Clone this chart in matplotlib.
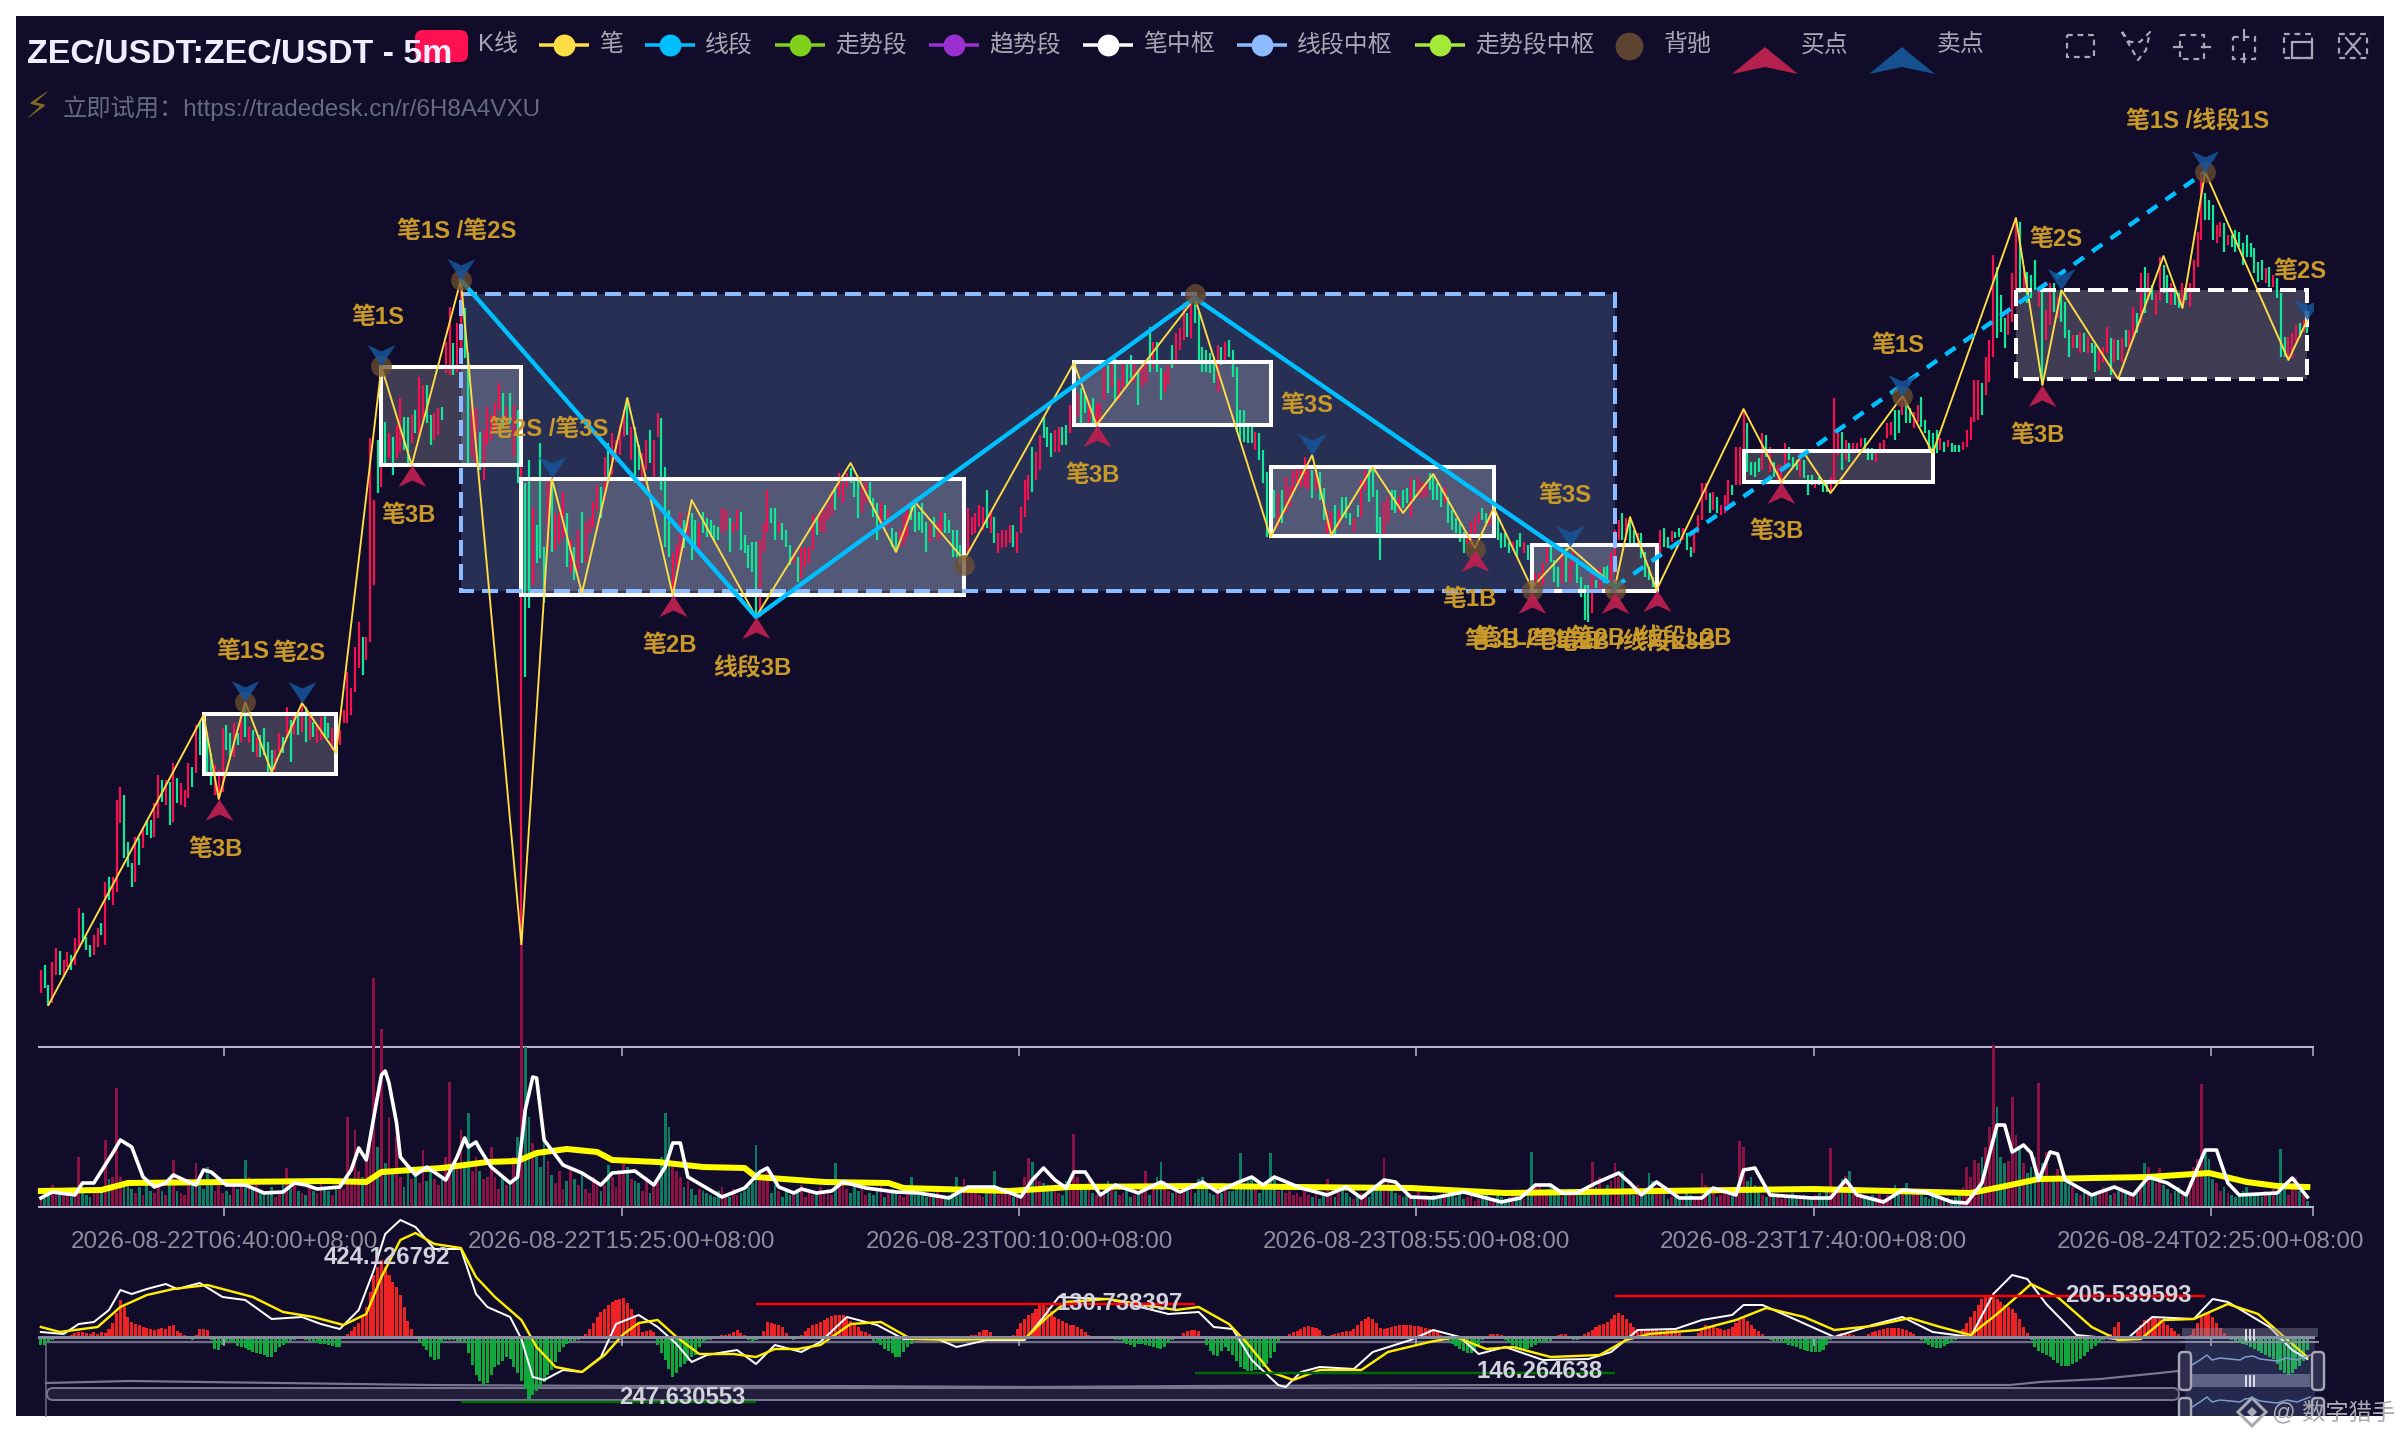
import matplotlib
matplotlib.use("Agg")
import matplotlib.pyplot as plt
from matplotlib.patches import FancyBboxPatch, Polygon, Rectangle
from matplotlib.path import Path

plt.rcParams["font.family"] = ["Liberation Sans", "Noto Sans CJK SC", "DejaVu Sans"]

W, H = 2400, 1440
PX = 72 / 200  # one image pixel in points
N_SLOTS = 601

# the chart has no price axis, so prices are kept as heights read on the picture
candle_top = [
    970,965,985,962,948,951,960,952,955,938,
    908,913,937,945,935,928,923,882,877,877,
    800,787,795,842,863,837,838,827,820,820,
    803,775,780,780,782,763,778,783,790,763,
    767,725,722,717,737,753,765,770,728,725,
    733,723,733,713,703,727,730,738,735,728,
    742,750,750,733,737,707,720,713,713,703,
    707,715,722,725,717,715,723,728,735,730,
    710,672,688,647,622,637,637,438,500,440,
    367,422,433,437,425,398,417,417,415,410,
    377,385,385,415,413,408,407,342,307,343,
    323,280,308,353,402,408,432,430,407,415,
    403,383,393,407,393,405,410,462,483,460,
    508,525,443,547,480,480,513,513,492,513,
    540,547,530,512,522,518,502,485,487,457,
    443,433,440,425,410,398,427,427,445,453,
    440,430,440,413,418,467,510,553,545,513,
    520,512,513,520,523,512,518,520,525,527,
    508,510,518,522,510,512,535,545,542,542,
    540,523,490,508,508,522,523,530,545,552,
    557,548,547,547,515,517,512,510,503,490,
    487,473,483,473,468,477,478,483,482,482,
    498,503,503,505,510,528,532,530,515,503,
    502,505,512,503,522,525,517,522,512,513,
    520,530,530,545,535,508,517,513,505,507,
    490,510,517,533,530,530,525,525,532,507,
    480,475,447,452,435,417,427,433,430,427,
    427,425,405,363,393,388,395,400,398,403,
    403,367,365,365,358,380,360,362,355,363,
    372,368,360,327,342,342,368,372,365,345,
    333,328,303,313,295,300,312,347,350,353,
    357,345,347,342,340,350,367,410,410,423,
    423,432,433,450,472,473,490,493,490,477,
    487,470,465,465,457,465,470,472,472,488,
    510,512,505,510,497,497,513,518,505,480,
    470,467,470,490,517,502,497,490,490,497,
    490,488,478,480,477,482,483,473,475,483,
    488,487,497,510,518,523,532,532,522,517,
    512,508,513,513,517,517,533,533,542,542,
    540,533,542,545,545,573,573,563,542,547,
    560,567,552,548,562,552,558,577,585,585,
    572,580,567,567,566,552,530,520,513,518,
    520,530,533,533,552,567,577,557,530,528,
    537,531,532,528,528,533,547,532,515,483,
    483,493,492,497,505,495,480,485,447,447,
    410,423,462,462,458,433,435,447,462,465,
    465,443,447,457,460,452,460,475,475,480,
    477,482,482,477,398,433,432,440,443,443,
    443,438,438,448,448,453,443,440,423,422,
    410,410,397,403,408,412,405,397,420,430,
    433,430,438,442,440,443,445,445,442,430,
    417,380,380,383,357,340,255,267,295,318,
    308,273,218,222,267,272,275,260,287,290,
    310,283,283,297,290,302,330,335,335,332,
    333,337,343,345,350,347,327,338,339,340,
    338,330,330,307,313,273,267,273,285,293,
    257,265,275,283,287,293,283,288,283,260,
    232,173,193,200,205,225,222,223,235,235,
    230,232,243,235,243,248,262,260,268,267,
    275,278,293,337,337,333,325,323,320,323,
]
candle_bottom = [
    993,988,1006,1003,975,975,977,967,970,965,
    947,942,950,957,955,947,935,945,900,905,
    892,823,858,867,887,882,865,848,835,838,
    837,818,802,805,825,822,803,805,807,798,
    787,773,755,768,772,785,795,798,792,750,
    757,757,745,742,737,743,752,757,757,755,
    772,772,770,752,753,737,762,735,735,732,
    742,740,737,743,740,738,738,750,753,745,
    723,723,715,692,668,675,660,642,585,493,
    487,467,458,475,458,452,450,463,443,433,
    437,420,423,445,440,435,420,373,375,375,
    372,350,358,467,457,467,470,480,445,440,
    433,410,427,427,423,457,483,945,677,608,
    585,563,558,603,550,552,550,543,538,567,
    573,580,570,563,562,533,527,510,518,500,
    477,475,462,455,437,435,460,483,470,483,
    470,463,480,437,490,547,557,593,567,557,
    548,538,560,545,550,533,537,537,540,540,
    533,530,552,533,530,550,553,568,572,617,
    617,552,532,523,540,533,540,547,565,563,
    582,578,567,563,550,535,532,533,520,515,
    510,497,503,487,483,497,518,513,503,503,
    517,540,527,520,527,547,552,547,545,537,
    520,532,530,533,552,542,537,540,535,533,
    533,557,557,565,565,553,535,533,527,530,
    528,533,543,553,548,547,543,547,553,533,
    517,500,492,480,470,438,447,457,452,452,
    445,445,433,427,417,423,413,423,427,423,
    423,400,393,387,402,400,388,385,378,382,
    405,387,383,372,367,372,400,392,385,368,
    365,350,340,337,338,323,360,372,372,373,
    383,392,365,363,357,377,432,440,442,443,
    443,450,460,483,537,508,518,527,523,512,
    507,493,483,487,487,490,498,490,500,520,
    535,533,535,527,518,518,525,532,517,517,
    490,502,497,533,560,535,523,510,513,513,
    508,503,517,500,497,498,497,490,500,500,
    507,503,523,530,533,542,553,545,547,537,
    523,520,523,525,525,540,548,547,553,550,
    556,547,553,560,588,587,587,585,563,562,
    582,587,583,582,582,565,583,597,620,622,
    613,588,592,583,583,590,573,540,540,540,
    547,545,545,558,577,580,587,590,557,547,
    548,542,538,537,540,550,557,553,533,520,
    500,513,510,513,515,513,510,495,485,485,
    467,472,475,477,472,470,457,472,477,483,
    480,465,460,468,470,477,478,495,485,488,
    485,492,492,492,483,455,470,460,462,453,
    453,447,452,460,460,462,453,450,438,435,
    440,433,415,423,423,428,422,427,433,450,
    455,453,450,452,447,452,452,452,450,447,
    440,422,420,415,395,382,357,338,332,348,
    335,322,307,293,290,303,298,290,307,385,
    340,325,312,318,322,338,357,348,348,353,
    352,353,353,372,370,362,353,375,362,360,
    362,347,347,340,333,323,313,300,300,315,
    300,293,303,305,305,308,305,300,307,292,
    267,240,220,220,240,243,237,252,245,247,
    252,247,265,257,257,273,282,280,283,287,
    287,298,357,357,357,358,342,337,332,333,
]
# 1 = rising candle
candle_up = (
    "1001101101" "1000110101" "1100010100" "1101010111" "0100001110"
    "0101010100" "0011010101" "0101100101" "1111101110" "1010110010"
    "1100110110" "1100110111" "1101010100" "1000101110" "1010111101"
    "0111101001" "1011000111" "0100100000" "1101100000" "1110010001"
    "0111101111" "0111000110" "0010100111" "0000010110" "0000111111"
    "0101111011" "1101100011" "0011100101" "1101011001" "0110100110"
    "1110100000" "0101000000" "0100000101" "1111110100" "1101000101"
    "1000011001" "0010111000" "0100000111" "1001100001" "0010011110"
    "0010110000" "1010011101" "0010000110" "0100100111" "1010111011"
    "1000010101" "1100010001" "0001110101" "1100011111" "0010011000"
    "0010100011" "1110111000" "1110100010" "1101000101" "0100111010"
    "1011010101" "1001001011" "1100011010" "0000000010" "1000111010"
)

volume = [
    10,16,12,22,18,14,12,14,10,18,
    50,14,12,10,16,14,18,67,28,30,
    119,30,26,24,18,14,20,12,22,16,
    14,20,16,12,24,47,16,14,12,28,
    24,44,22,18,40,24,16,30,14,16,
    12,22,18,26,47,30,18,22,14,16,
    12,20,10,16,24,39,18,28,16,14,
    12,22,16,14,24,18,16,12,20,26,
    18,90,28,77,36,30,50,66,229,60,
    178,44,90,36,70,30,20,40,28,32,
    24,57,26,40,28,22,30,50,125,40,
    44,77,40,94,36,50,36,28,30,60,
    30,18,32,22,24,50,70,262,160,90,
    64,52,40,66,46,32,24,36,18,26,
    40,28,22,36,18,14,30,24,16,22,
    42,30,20,36,49,40,28,26,24,16,
    30,14,22,28,50,94,80,44,36,30,
    20,26,18,12,18,16,14,12,10,16,
    20,12,10,18,12,14,16,20,24,62,
    30,26,38,14,22,16,10,18,12,14,
    18,22,10,16,12,14,20,16,18,12,
    44,22,26,18,14,24,16,20,12,14,
    12,16,24,10,14,18,16,12,10,14,
    30,14,12,18,10,12,14,16,10,8,
    12,14,30,16,28,18,20,14,12,10,
    16,22,36,12,14,18,12,10,14,8,
    30,49,45,30,26,24,22,20,18,14,
    12,26,18,73,30,22,20,28,14,12,
    10,14,26,18,16,12,14,18,10,12,
    14,22,36,12,18,30,45,26,16,14,
    18,12,22,16,20,14,28,30,18,14,
    12,20,14,22,16,16,24,54,22,26,
    30,18,14,22,26,54,28,16,18,14,
    16,12,14,10,18,12,10,14,8,12,
    28,12,10,16,22,14,10,8,12,14,
    12,10,18,22,26,49,24,18,14,12,
    10,12,14,10,16,8,12,10,12,8,
    10,14,12,16,10,14,8,10,12,6,
    8,10,12,8,6,12,10,8,10,12,
    16,10,8,12,55,24,20,14,18,22,
    14,12,10,16,18,12,14,18,12,16,
    45,20,30,18,22,26,44,30,36,18,
    14,12,22,10,14,34,26,20,18,14,
    8,10,12,8,10,14,12,8,10,34,
    22,14,16,10,12,18,14,12,20,66,
    60,26,30,22,18,12,10,16,14,10,
    8,12,10,14,8,10,12,8,10,12,
    14,10,18,59,12,16,28,31,36,14,
    12,14,10,8,12,10,14,8,12,10,
    22,14,18,24,12,16,14,12,10,8,
    12,10,8,6,10,8,10,14,20,40,
    30,47,44,50,60,80,162,100,50,44,
    46,110,72,60,44,34,40,50,124,44,
    55,28,30,38,30,24,22,20,14,12,
    18,16,12,14,16,20,18,12,14,16,
    20,16,12,14,18,22,44,40,28,24,
    39,22,18,14,16,20,12,14,26,40,
    48,123,57,48,28,24,16,20,14,12,
    10,12,16,20,14,12,14,10,16,14,
    18,14,58,22,12,24,30,16,12,6,
]

vol_ma_fast_bar = [0,3,9,11,14,19,21,24,27,30,33,35,39,41,43,45,49,54,59,64,67,70,73,79,82,84,86,88,90,91,92,94,95,99,102,107,110,112,113,115,116,119,124,126,128,130,131,133,138,143,148,151,154,157,162,165,167,169,171,180,186,190,192,195,199,201,205,209,212,218,226,232,240,245,252,259,262,265,268,271,273,276,280,284,290,296,301,307,311,316,320,323,326,333,340,345,349,355,358,362,368,372,376,386,391,395,399,402,406,411,417,420,423,427,433,439,442,448,450,453,457,468,473,477,480,487,492,498,505,509,513,517,519,521,524,526,528,531,533,535,542,548,553,557,562,567,572,575,578,581,591,595,599]
vol_ma_fast = [9,15,12,24,24,54,67,60,30,20,24,32,25,22,37,35,22,22,14,15,24,22,18,20,37,59,47,90,132,136,124,84,50,32,40,27,50,69,60,65,58,40,24,30,97,130,129,67,42,34,22,34,35,36,22,40,64,64,30,10,19,35,39,20,14,18,14,16,25,19,15,14,9,20,20,10,27,39,27,19,35,35,12,22,14,25,15,25,15,24,30,22,30,19,12,20,9,27,25,10,9,12,15,5,9,22,22,14,14,24,34,24,12,25,9,9,19,12,37,39,12,9,9,27,12,5,17,15,5,4,24,82,82,55,62,54,27,55,53,27,12,20,12,30,24,12,57,57,24,12,14,29,10]
vol_ma_slow_bar = [0,16,23,76,86,90,106,118,126,131,139,147,151,163,175,186,189,207,224,228,256,272,306,332,362,387,468,510,518,528,557,573,583,591,599]
vol_ma_slow = [16,17,24,26,25,35,39,45,46,54,58,55,47,45,40,39,30,25,24,19,16,20,21,20,19,14,18,14,20,28,30,34,25,21,20]

macd_hist = [
    -8,-8,-5,-3,-2,-2,-1,1,2,4,
    5,5,4,3,5,3,5,4,8,14,
    24,37,30,20,15,13,12,10,9,8,
    7,8,9,8,11,12,6,4,2,-1,
    -3,2,8,8,7,-3,-12,-13,-8,-5,
    -5,-5,-9,-10,-11,-13,-15,-16,-17,-18,
    -20,-20,-15,-10,-8,-6,-4,-3,-1,-2,
    -3,-4,-5,-6,-7,-7,-8,-9,-10,-10,
    1,3,6,10,14,22,30,45,62,70,
    77,70,62,55,50,42,30,16,8,1,
    -5,-9,-13,-20,-23,-22,-6,-3,-3,-3,
    -4,-4,-5,-16,-28,-38,-44,-48,-46,-38,
    -30,-28,-24,-20,-22,-30,-36,-44,-52,-62,
    -58,-54,-50,-45,-38,-33,-25,-15,-10,-7,
    -5,-4,-3,-1,3,8,14,20,25,28,
    32,35,37,38,39,34,28,22,14,5,
    6,7,5,-8,-16,-23,-32,-40,-36,-30,
    -27,-24,-20,-18,-10,-5,-3,-3,-2,-2,
    2,2,3,5,7,4,2,-3,-5,-3,
    1,6,15,14,13,12,10,4,-1,-3,
    -2,2,6,9,12,13,15,17,19,21,
    22,22,22,20,16,14,10,6,5,3,
    -4,-6,-8,-12,-14,-16,-20,-20,-15,-10,
    -7,-3,-2,-2,-3,-3,-3,-3,-2,-2,
    -3,-3,-5,-3,-1,1,2,2,5,7,
    7,5,1,1,0,1,1,2,8,14,
    18,22,24,28,32,32,30,26,20,18,
    16,14,12,12,10,8,5,2,-1,-2,
    -2,-1,-2,-2,-3,-3,-5,-7,-8,-10,
    -7,-7,-8,-9,-10,-11,-12,-10,-6,-3,
    -2,1,4,6,7,7,6,-2,-8,-14,
    -18,-19,-14,-10,-14,-18,-24,-30,-32,-34,
    -34,-33,-33,-30,-27,-21,-15,-5,-1,1,
    3,5,6,8,10,11,10,9,7,2,
    -1,2,3,4,5,6,6,8,12,16,
    18,20,18,14,9,8,9,10,11,12,
    12,12,12,11,11,10,9,8,7,5,
    2,-2,-4,-7,-9,-12,-14,-16,-16,-14,
    -8,-3,1,3,3,3,2,-3,-6,-8,
    -10,-12,-13,-12,-10,-8,-6,-5,-4,-4,
    -2,2,3,3,1,-3,-3,-1,3,5,
    7,10,12,13,15,18,22,24,22,18,
    14,10,8,6,6,7,8,8,6,3,
    8,8,7,4,1,0,0,1,4,8,
    12,11,10,9,8,7,8,10,14,17,
    19,16,12,8,6,3,-1,-3,-4,-4,
    -5,-6,-8,-9,-10,-12,-13,-14,-15,-15,
    -15,-13,-8,-3,1,3,4,4,3,2,
    -1,-2,1,3,5,6,7,8,9,9,
    9,9,8,7,5,3,1,-3,-6,-8,
    -10,-11,-11,-9,-7,-5,-3,2,8,14,
    20,26,32,38,40,41,41,38,35,32,
    30,28,24,18,10,4,-3,-10,-14,-16,
    -18,-20,-23,-26,-29,-29,-29,-27,-25,-22,
    -19,-15,-12,-9,-6,-3,-1,3,10,15,
    -1,-1,-1,1,6,12,17,18,19,19,
    18,15,12,9,6,3,1,-1,2,8,
    14,20,24,24,20,14,9,4,-1,-3,
    -5,-6,-7,-8,-10,-12,-14,-16,-18,-20,
    -22,-27,-33,-36,-38,-36,-32,-29,-24,-13,
]
dif_bar = [0,6,10,14,18,21,24,28,33,36,42,48,54,61,69,74,79,84,88,91,95,99,104,111,115,118,124,127,130,133,138,143,148,152,158,163,168,172,176,184,189,194,201,206,213,221,228,237,242,250,260,265,269,282,298,306,310,315,320,327,329,333,338,347,352,362,368,375,380,387,397,409,415,422,432,439,447,450,455,461,474,484,492,500,510,516,521,525,530,538,551,558,569,574,578,589,595,599]
dif = [5,3,13,15,27,47,43,48,53,48,54,40,37,18,20,13,8,27,67,103,117,110,88,88,43,30,20,-2,-40,-43,-33,-35,-20,13,22,10,-7,-25,-18,-13,-27,-8,-15,-5,20,12,-2,-2,-10,-3,-3,20,40,38,23,25,10,8,-23,-48,-50,-35,-30,-32,-15,-3,7,0,-17,-10,-23,-22,-15,7,8,17,22,32,32,22,0,12,20,5,0,43,62,58,33,2,-3,20,18,38,35,10,-13,-22]
dea_bar = [0,5,15,21,28,35,44,56,64,72,80,86,90,95,99,104,111,115,120,127,131,136,143,149,154,158,163,168,174,183,189,194,200,206,214,222,230,242,250,260,266,271,282,300,306,314,319,325,331,338,349,356,367,374,382,389,399,412,419,425,438,448,456,466,474,484,494,502,510,517,526,533,542,549,555,561,569,578,586,592,599]
dea = [10,5,10,30,42,48,52,40,25,20,12,23,60,97,104,93,89,60,40,17,-10,-30,-35,-18,3,14,17,0,-17,-17,-20,-12,-12,-8,13,15,-2,-3,-2,-2,20,35,38,27,30,13,-7,-35,-43,-33,-33,-15,-5,0,-12,-10,-20,-18,-3,3,7,17,29,20,7,11,19,10,2,23,53,40,10,-3,-2,17,18,33,23,3,-20]

bi_bar = [2,43,47,54,61,69,78,90,98,111,127,135,143,155,167,172,189,214,226,231,244,273,279,305,325,336,341,352,360,368,379,384,394,404,416,420,427,450,460,466,473,492,500,522,529,534,549,561,566,572,594,599]
bi_price = [1005,715,799,702,772,703,753,367,465,280,945,478,593,398,595,500,617,463,552,502,560,363,425,298,537,455,535,467,513,474,548,508,588,547,587,517,590,409,482,453,493,396,453,218,385,290,379,256,308,172,360,320]
xd_bar = [111,189,305,416]
xd_price = [280,617,298,587]
xd_open_bar = [416,572]
xd_open_price = [587,172]

bi_zs_start = [43,90,127,273,325,394,450,522]
bi_zs_end = [78,127,244,325,384,427,500,599]
bi_zs_high = [714,367,479,362,467,545,451,290]
bi_zs_low = [774,465,595,425,536,591,482,379]

buy_bar = [47,98,167,189,279,379,394,416,427,460,529]
buy_price = [799,465,595,617,425,550,592,592,590,482,385]
sell_bar = [54,69,90,111,135,336,404,492,534,572,599]
sell_price = [702,703,366,280,478,455,547,396,290,172,320]
div_bar = [54,90,111,244,305,379,394,416,492,572]
div_price = [702,366,280,565,294,549,590,590,396,172]

signal_text = ["笔1S","笔2S","笔1S","笔1S /笔2S","笔2S /笔3S","笔3B","笔3B","笔2B","线段3B","笔3B","笔3S","笔1B","笔3S","笔3B","笔1S","笔3B","笔2S","笔1S /线段1S","笔2S","笔3B /笔L2B","笔1L2B /笔2B /线段L2B","笔2B /线段L3B"]
signal_bar = [53.4,68.2,89.2,110,134.2,46.3,97.2,166.2,188,277.9,334.7,377.7,402.8,458.8,490.7,527.7,532.7,570,597,394.4,413,421.5]
signal_price = [652,654,317,231,429,850,515,645,669,475,405,600,495,532,346,435,240,122,271,642,639,643]

tick_bars = [49,154,259,364,469,574,601]
tick_labels = ["2026-08-22T06:40:00+08:00","2026-08-22T15:25:00+08:00","2026-08-23T00:10:00+08:00","2026-08-23T08:55:00+08:00","2026-08-23T17:40:00+08:00","2026-08-24T02:25:00+08:00",""]

peak_text = ["424.126792","130.738397","205.539593","146.264638","247.630553"]
peak_bar = [92,285.6,552.3,396.5,170]
peak_value = [79,33,41,-35,-61]
high_line_start = [189,416]
high_line_end = [305,572]
high_line_value = [33,41]
low_line_start = [111,305]
low_line_end = [189,416]
low_line_value = [-65,-36]

legend_names = ["笔","线段","走势段","趋势段","笔中枢","线段中枢","走势段中枢"]
legend_colors = ["#ffdd44","#00bfff","#7fd01a","#9b30d0","#ffffff","#8cbcff","#a4e83a"]
legend_line_x = [539,645,775,929,1083,1237,1415]

slider_x = [46,130,280,430,630,830,1030,1195,1500,1800,2010,2040,2100,2160,2178]
slider_y = [1383,1381,1383,1385,1386,1386,1387,1386,1385,1385,1385,1382,1379,1373,1371]
window_x = [2192,2200,2207,2212,2220,2240,2245,2253,2260,2277,2287,2297,2310]
window_y = [1365,1360,1355,1360,1358,1360,1357,1356,1359,1361,1358,1360,1355]

RED = "#f7104f"
GREEN = "#10e898"
GOLD = "#c99a2a"
BG = "#100c2a"
AXIS = "#b9b6cc"
TEXT = "#a8a8b4"

up = [c == "1" for c in candle_up]
mid = [b + 0.5 for b in range(len(candle_top))]


def center(values):
    return [v + 0.5 for v in values]


def px_axes(left, top, right, bottom, zorder):
    ax = fig.add_axes([left / W, 1 - bottom / H, (right - left) / W, (bottom - top) / H], zorder=zorder)
    ax.patch.set_alpha(0)
    return ax


fig = plt.figure(figsize=(12, 7.2), facecolor="white")
ax_bg = px_axes(0, 0, W, H, 0)
ax_bg.set_xlim(0, W)
ax_bg.set_ylim(H, 0)
ax_bg.axis("off")
ax_bg.add_patch(Rectangle((16, 16), 2368, 1400, color=BG, lw=0))

# slider background goes under the macd bars and their labels
ax_bg.plot([46, 2182], [1342, 1342], color="#6f6d87", lw=2.4 * PX)
ax_bg.plot([46, 46], [1342, 1416], color="#6f6d87", lw=1.5 * PX)
ax_bg.plot(slider_x, slider_y, color="#77768a", lw=2.2 * PX)
ax_bg.add_patch(FancyBboxPatch((50, 1391), 2126, 6, boxstyle="round,pad=3,rounding_size=6", facecolor="#221e3c", edgecolor="#76748e", lw=2 * PX))

# main price panel
ax = px_axes(39, 16, 2313, 1047, 2)
ax.set_xlim(0, N_SLOTS)
ax.set_ylim(1047, 16)
for s in ["top", "left", "right"]:
    ax.spines[s].set_visible(False)
ax.spines["bottom"].set_color(AXIS)
ax.spines["bottom"].set_linewidth(2 * PX)
ax.set_yticks([])
ax.set_xticks(tick_bars)
ax.set_xticklabels([])
ax.tick_params(axis="x", length=9 * PX, width=1.5 * PX, color=AXIS)

# segment pivot
ax.add_patch(Rectangle((111.5, 294), 305, 297, facecolor="#8cbcff", alpha=0.2, lw=0, zorder=1))
for i in range(len(bi_zs_start)):
    x0, x1 = bi_zs_start[i] + 0.5, bi_zs_end[i] + 0.5
    y0, y1 = bi_zs_high[i], bi_zs_low[i]
    ax.add_patch(Rectangle((x0, y0), x1 - x0, y1 - y0, facecolor="white", alpha=0.2, lw=0, zorder=1.5))

ax.vlines(mid, candle_top, candle_bottom, colors=[RED if u else GREEN for u in up], lw=2.2 * PX, zorder=2)

for i in range(len(bi_zs_start)):
    x0, x1 = bi_zs_start[i] + 0.5, bi_zs_end[i] + 0.5
    y0, y1 = bi_zs_high[i], bi_zs_low[i]
    style = (0, (4.0, 2.0)) if i == len(bi_zs_start) - 1 else "-"
    ax.add_patch(Rectangle((x0, y0), x1 - x0, y1 - y0, fill=False, edgecolor="white", lw=4 * PX, ls=style, zorder=3))
ax.add_patch(Rectangle((111.5, 294), 305, 297, fill=False, edgecolor="#8cbcff", lw=4 * PX, ls=(0, (4.0, 2.0)), zorder=3.5))

ax.plot(center(bi_bar), bi_price, color="#ffdd44", lw=1.9 * PX, zorder=4)
ax.plot(center(xd_bar), xd_price, color="#00bfff", lw=4.4 * PX, zorder=5, solid_joinstyle="miter")
ax.plot(center(xd_open_bar), xd_open_price, color="#00bfff", lw=4.4 * PX, ls=(0, (2.8, 2.3)), zorder=5)

buy_mark = Path([(0, 0), (0.65, -1), (0, -0.7), (-0.65, -1), (0, 0)], closed=True)
sell_mark = Path([(0, 0), (0.65, 1), (0, 0.7), (-0.65, 1), (0, 0)], closed=True)
ax.scatter(center(div_bar), div_price, s=56, color="#6f5030", alpha=0.75, lw=0, zorder=6)
ax.scatter(center(buy_bar), buy_price, s=240, marker=buy_mark, color="#c01f50", alpha=0.92, lw=0, zorder=6.5)
ax.scatter(center(sell_bar), sell_price, s=240, marker=sell_mark, color="#17559c", alpha=0.85, lw=0, zorder=6.5)
for t, b, p in zip(signal_text, signal_bar, signal_price):
    ax.text(b + 0.5, p, t, color=GOLD, fontsize=8.6, fontweight="bold", ha="center", va="center", zorder=8)

# volume panel
ax_vol = px_axes(39, 1047, 2313, 1207, 3)
ax_vol.set_xlim(0, N_SLOTS)
ax_vol.set_ylim(0, 160)
for s in ["top", "left", "right"]:
    ax_vol.spines[s].set_visible(False)
ax_vol.spines["bottom"].set_color(AXIS)
ax_vol.spines["bottom"].set_linewidth(2 * PX)
ax_vol.set_yticks([])
ax_vol.bar(mid, volume, width=0.72, color=["#8c1145" if u else "#0b7c62" for u in up], lw=0, clip_on=False)
ax_vol.plot(center(vol_ma_slow_bar), vol_ma_slow, color="#ffff00", lw=6 * PX, clip_on=False)
ax_vol.plot(center(vol_ma_fast_bar), vol_ma_fast, color="white", lw=3.6 * PX, clip_on=False)
ax_vol.set_xticks(tick_bars)
ax_vol.set_xticklabels(tick_labels, color="#8e8e9c", fontsize=8.7)
ax_vol.tick_params(axis="x", length=9 * PX, width=1.5 * PX, color=AXIS, pad=5.3)

# macd panel
ax_macd = px_axes(39, 1216, 2313, 1416, 4)
ax_macd.set_xlim(0, N_SLOTS)
ax_macd.set_ylim(-79, 121)
for s in ["top", "left", "right"]:
    ax_macd.spines[s].set_visible(False)
ax_macd.spines["bottom"].set_position(("data", 0))
ax_macd.spines["bottom"].set_color("#8a8a9e")
ax_macd.spines["bottom"].set_linewidth(3 * PX)
ax_macd.set_yticks([])
ax_macd.set_xticks(tick_bars[:-1])
ax_macd.set_xticklabels([])
ax_macd.tick_params(axis="x", length=9 * PX, width=1.5 * PX, color=AXIS)
ax_macd.bar(mid, macd_hist, width=0.8, color=["#ee2222" if v > 0 else "#10a83a" for v in macd_hist], lw=0, clip_on=False)
ax_macd.plot(center(dif_bar), dif, color="white", lw=2 * PX, clip_on=False)
ax_macd.plot(center(dea_bar), dea, color="#ffee00", lw=2.4 * PX, clip_on=False)
ax_macd.hlines(high_line_value, center(high_line_start), center(high_line_end), color="#ff0000", lw=2.5 * PX)
ax_macd.hlines(low_line_value, center(low_line_start), center(low_line_end), color="#006a00", lw=2.5 * PX)
for t, b, v in zip(peak_text, peak_bar, peak_value):
    ax_macd.text(b, v, t, color="#d2d2dc", fontsize=8.6, fontweight="bold", ha="center", va="center", zorder=6)

# title, legend, toolbox, slider window and watermark sit on one pixel layer
ui = px_axes(0, 0, W, H, 5)
ui.set_xlim(0, W)
ui.set_ylim(H, 0)
ui.axis("off")

ui.add_patch(FancyBboxPatch((421, 36), 41, 20, boxstyle="round,pad=6,rounding_size=8", facecolor="#ff1050", lw=0))
ui.text(27, 54, "ZEC/USDT:ZEC/USDT - 5m", color="#eeeeff", fontsize=12.2, fontweight="bold", va="center", ha="left")
ui.text(25, 108, "⚡", color="#7d6a1e", fontsize=13, family=["DejaVu Sans"], va="center", ha="left")
ui.text(63, 108, "立即试用：https://tradedesk.cn/r/6H8A4VXU", color="#666a80", fontsize=8.75, va="center", ha="left")
ui.text(478, 45, "K线", color=TEXT, fontsize=8.6, va="center", ha="left")

for name, color, x in zip(legend_names, legend_colors, legend_line_x):
    ui.plot([x, x + 50], [45, 45], color=color, lw=3.5 * PX, solid_capstyle="butt")
    ui.scatter([x + 25], [45], s=62, color=color, lw=0, zorder=3)
    ui.text(x + 60, 45, name, color=TEXT, fontsize=8.6, va="center", ha="left")
ui.scatter([1629], [46], s=100, color="#5c4430", lw=0)
ui.text(1664, 45, "背驰", color=TEXT, fontsize=8.6, va="center", ha="left")
ui.add_patch(Polygon([(1765, 47), (1798, 74), (1765, 67), (1732, 74)], facecolor="#b5204c", lw=0))
ui.text(1801, 45, "买点", color=TEXT, fontsize=8.6, va="center", ha="left")
ui.add_patch(Polygon([(1902, 47), (1935, 74), (1902, 67), (1869, 74)], facecolor="#17508f", lw=0))
ui.text(1937, 45, "卖点", color=TEXT, fontsize=8.6, va="center", ha="left")

# toolbox icons
icon = dict(color="#a8a8b4", lw=2.2 * PX)
dash = dict(color="#a8a8b4", lw=2.2 * PX, ls=(0, (2.6, 2.2)))
box = dict(fill=False, edgecolor="#a8a8b4", lw=2.2 * PX, ls=(0, (2.6, 2.2)))
ui.add_patch(Rectangle((2067, 35), 27, 22, **box))
ui.plot([2122, 2130, 2140, 2150, 2146, 2138, 2122], [32, 42, 42, 32, 50, 60, 32], **dash)
ui.add_patch(Rectangle((2180, 35), 24, 24, **box))
ui.plot([2174, 2182], [47, 47], **icon)
ui.plot([2202, 2210], [47, 47], **icon)
ui.add_patch(Rectangle((2233, 37), 22, 22, **box))
ui.plot([2244, 2244], [30, 40], **icon)
ui.plot([2244, 2244], [54, 62], **icon)
ui.add_patch(Rectangle((2284, 34), 28, 24, **box))
ui.add_patch(Rectangle((2292, 42), 20, 16, fill=False, edgecolor="#a8a8b4", lw=2.2 * PX))
ui.add_patch(Rectangle((2339, 34), 28, 24, **box))
ui.plot([2346, 2360], [38, 54], **icon)
ui.plot([2360, 2346], [38, 54], **icon)

# data zoom window
ui.add_patch(Rectangle((2182, 1328), 136, 9, facecolor="#8a8aa0", alpha=0.4, lw=0))
ui.add_patch(Rectangle((2185, 1337), 130, 79, facecolor="#87aff0", alpha=0.18, lw=0))
ui.add_patch(Rectangle((2191, 1374), 119, 13, facecolor="#8a94b8", alpha=0.55, lw=0))
ui.plot([2182, 2318], [1342, 1342], color="#8a8a9e", lw=2 * PX)
ui.plot(window_x, window_y, color="#7f9ed0", lw=1.5 * PX)
ui.plot(window_x, [y + 42 for y in window_y], color="#7f9ed0", lw=1.5 * PX)
for x in [2179, 2312]:
    ui.add_patch(FancyBboxPatch((x + 3, 1355), 6, 32, boxstyle="round,pad=3,rounding_size=4", facecolor="#302e4e", edgecolor="#a8a8ba", lw=2.4 * PX))
    ui.add_patch(FancyBboxPatch((x + 3, 1401), 6, 30, boxstyle="round,pad=3,rounding_size=4", facecolor="#302e4e", edgecolor="#a8a8ba", lw=2.4 * PX))
for y in [1335, 1381]:
    for x in [2246, 2250, 2254]:
        ui.plot([x, x], [y - 5, y + 5], color="#e8e8ee", lw=1.8 * PX)
# the frame ends at 1416, the lower handles are cut there
ui.add_patch(Rectangle((2170, 1416), 170, 24, facecolor="white", lw=0))

# watermark over the frame edge
ui.add_patch(Polygon([(2252, 1398), (2266, 1412), (2252, 1426), (2238, 1412)], fill=False, edgecolor="#a9a9b2", lw=3 * PX))
ui.add_patch(Polygon([(2252, 1407), (2257, 1412), (2252, 1417), (2247, 1412)], facecolor="#a9a9b2", lw=0))
ui.text(2272, 1413, "@ 数字猎手", color="#a9a9b2", fontsize=8.4, va="center", ha="left")

fig.savefig("out.png", dpi=200, facecolor="white")
